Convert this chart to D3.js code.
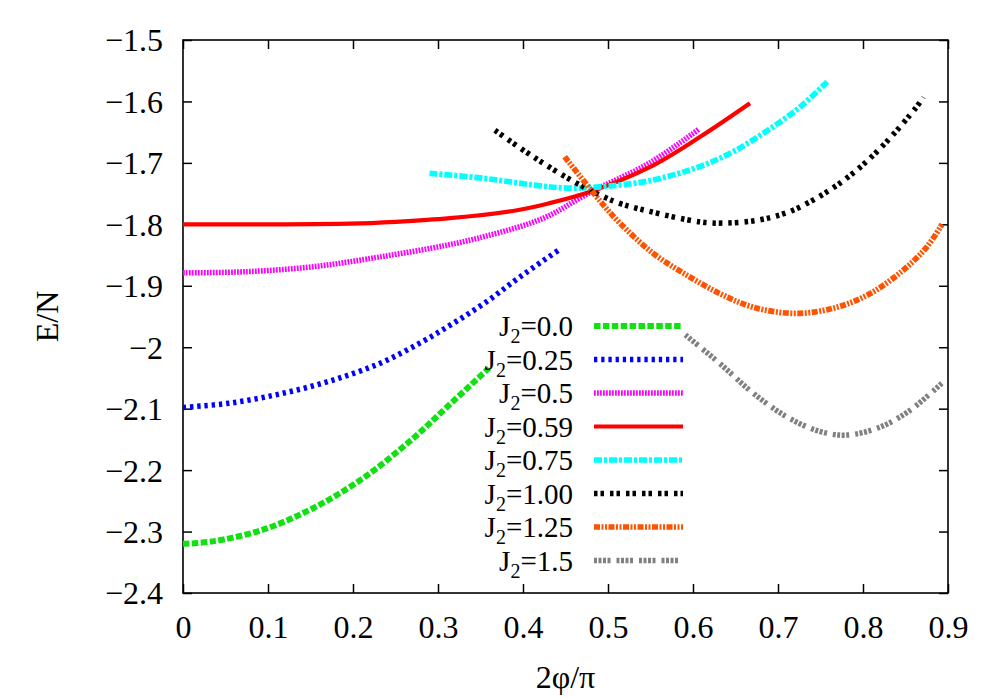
<!DOCTYPE html>
<html>
<head>
<meta charset="utf-8">
<title>E/N vs 2phi/pi</title>
<script src="https://cdn.jsdelivr.net/npm/d3@7"></script>
<style>
  body { margin: 0; background: #fff; }
  svg text { font-family: "Liberation Serif", "Times New Roman", Tinos, Times, "DejaVu Serif", serif; fill: #000; }
</style>
</head>
<body>
<script>
// values

var xTicks = [0, 0.1, 0.2, 0.3, 0.4, 0.5, 0.6, 0.7, 0.8, 0.9];
var xTickLabels = ["0", "0.1", "0.2", "0.3", "0.4", "0.5", "0.6", "0.7", "0.8", "0.9"];
var yTicks = [-1.5, -1.6, -1.7, -1.8, -1.9, -2.0, -2.1, -2.2, -2.3, -2.4];
var yTickLabels = ["\u22121.5", "\u22121.6", "\u22121.7", "\u22121.8", "\u22121.9", "\u22122", "\u22122.1", "\u22122.2", "\u22122.3", "\u22122.4"];

var seriesNames = ["0.0", "0.25", "0.5", "0.59", "0.75", "1.00", "1.25", "1.5"];

// J2 = 0.0
var phiJ000 = [0, 0.035, 0.094, 0.153, 0.212, 0.271, 0.31, 0.36];
var eJ000 = [-2.320, -2.316, -2.297, -2.262, -2.213, -2.148, -2.098, -2.034];

// J2 = 0.25
var phiJ025 = [0, 0.055, 0.114, 0.173, 0.232, 0.279, 0.318, 0.357, 0.396, 0.445];
var eJ025 = [-2.098, -2.091, -2.076, -2.055, -2.026, -1.993, -1.961, -1.926, -1.886, -1.839];

// J2 = 0.5
var phiJ050 = [0, 0.075, 0.153, 0.232, 0.31, 0.357, 0.424, 0.479, 0.549, 0.607];
var eJ050 = [-1.879, -1.877, -1.869, -1.853, -1.834, -1.819, -1.790, -1.748, -1.700, -1.645];

// J2 = 0.59
var phiJ059 = [0, 0.1, 0.196, 0.25, 0.314, 0.393, 0.43, 0.479, 0.549, 0.608, 0.667];
var eJ059 = [-1.800, -1.800, -1.799, -1.796, -1.790, -1.777, -1.766, -1.747, -1.707, -1.658, -1.603];

// J2 = 0.75
var phiJ075 = [0.29, 0.353, 0.412, 0.452, 0.49, 0.549, 0.608, 0.647, 0.687, 0.726, 0.758];
var eJ075 = [-1.717, -1.725, -1.736, -1.741, -1.739, -1.729, -1.706, -1.682, -1.648, -1.609, -1.568];

// J2 = 1.00
var phiJ100 = [0.367, 0.412, 0.463, 0.51, 0.546, 0.608, 0.636, 0.677, 0.714, 0.753, 0.788, 0.824, 0.863, 0.871];
var eJ100 = [-1.647, -1.690, -1.733, -1.764, -1.778, -1.796, -1.798, -1.793, -1.779, -1.751, -1.717, -1.671, -1.609, -1.593];

// J2 = 1.25
var phiJ125 = [0.449, 0.49, 0.514, 0.553, 0.593, 0.632, 0.671, 0.722, 0.769, 0.808, 0.847, 0.875, 0.893];
var eJ125 = [-1.690, -1.761, -1.798, -1.847, -1.883, -1.913, -1.935, -1.945, -1.935, -1.913, -1.875, -1.837, -1.800];

// J2 = 1.5
var phiJ150 = [0.591, 0.632, 0.671, 0.71, 0.749, 0.781, 0.82, 0.855, 0.894];
var eJ150 = [-1.980, -2.027, -2.075, -2.113, -2.137, -2.143, -2.130, -2.103, -2.057];

var phiList = [phiJ000, phiJ025, phiJ050, phiJ059, phiJ075, phiJ100, phiJ125, phiJ150];
var eList = [eJ000, eJ025, eJ050, eJ059, eJ075, eJ100, eJ125, eJ150];

// line styles (gnuplot-ish)
var colors = ["#11e011", "#0000ff", "#ff00ff", "#ff0000", "#00ffff", "#000000", "#ff5300", "#808080"];
var widths = [6, 5.5, 5.5, 4.2, 5.7, 5.5, 5.7, 5.5];
var dashes = ["6.5,2.4", "3.3,3.9", "1.8,1.2", null, "8,2,3,2", "3.5,3,3.5,6", "6,1.5,2,1.5,2,1.5", "3,1.5,3,1.5,3,1.5,3,6"];

var serif = "'Liberation Serif', 'Times New Roman', Tinos, Times, 'DejaVu Serif', serif";

window.onload = function(){

	var w = 1000, h = 700;
	var left = 183, right = 948, top = 40, bottom = 593;

	var svg = d3.select("body")
		.append("svg")
		.attr("width", w)
		.attr("height", h)
		.attr("font-family", serif);

	var x = d3.scaleLinear()
		.domain([0, 0.9])
		.range([left, right]);

	var y = d3.scaleLinear()
		.domain([-1.5, -2.4])
		.range([top, bottom]);

	// axes: ticks point inwards, mirrored on top and right
	var tickLen = 9;

	svg.append("g")
		.attr("transform", "translate(0," + bottom + ")")
		.call(d3.axisBottom(x).tickValues(xTicks).tickSize(-tickLen)
			.tickFormat(function(d, i){ return xTickLabels[i]; }))
		.call(styleAxis)
		.selectAll("text")
		.attr("dy", "0")
		.attr("y", 45);

	svg.append("g")
		.attr("transform", "translate(0," + top + ")")
		.call(d3.axisTop(x).tickValues(xTicks).tickSize(-tickLen).tickFormat(""))
		.call(styleAxis);

	svg.append("g")
		.attr("transform", "translate(" + left + ",0)")
		.call(d3.axisLeft(y).tickValues(yTicks).tickSize(-tickLen)
			.tickFormat(function(d, i){ return yTickLabels[i]; }))
		.call(styleAxis)
		.selectAll("text")
		.attr("x", -20)
		.attr("dy", "0.34em");

	svg.append("g")
		.attr("transform", "translate(" + right + ",0)")
		.call(d3.axisRight(y).tickValues(yTicks).tickSize(-tickLen).tickFormat(""))
		.call(styleAxis);

	function styleAxis(g){
		g.attr("font-family", serif);
		g.select(".domain").remove();
		g.selectAll("line").attr("stroke", "#000").attr("stroke-width", 1.5);
		g.selectAll("text").style("font-size", "32px").attr("fill", "#000")
			.style("font-family", serif);
	}

	// frame
	svg.append("rect")
		.attr("x", left)
		.attr("y", top)
		.attr("width", right - left)
		.attr("height", bottom - top)
		.attr("fill", "none")
		.attr("stroke", "#000")
		.attr("stroke-width", 1.6);

	// curves
	var line = d3.line()
		.x(function(d){ return x(d[0]); })
		.y(function(d){ return y(d[1]); })
		.curve(d3.curveCatmullRom.alpha(0.5));

	var legendRight = 573, legendX1 = 594, legendX2 = 683, legendY0 = 326, legendStep = 33.5;

	seriesNames.forEach(function(name, i){
		var pts = d3.zip(phiList[i], eList[i]);

		var path = svg.append("path")
			.datum(pts)
			.attr("d", line)
			.attr("fill", "none")
			.attr("stroke", colors[i])
			.attr("stroke-width", widths[i]);
		if (dashes[i]) path.attr("stroke-dasharray", dashes[i]);

		// legend entry
		var ly = legendY0 + i * legendStep;
		var sample = svg.append("line")
			.attr("x1", legendX1)
			.attr("x2", legendX2)
			.attr("y1", ly)
			.attr("y2", ly)
			.attr("stroke", colors[i])
			.attr("stroke-width", widths[i]);
		if (dashes[i]) sample.attr("stroke-dasharray", dashes[i]);

		var label = svg.append("text")
			.attr("x", legendRight)
			.attr("y", ly + 10)
			.attr("text-anchor", "end")
			.style("font-family", serif)
			.style("font-size", "29px");
		label.append("tspan").text("J");
		label.append("tspan").attr("dy", 7).style("font-size", "20px").text("2");
		label.append("tspan").attr("dy", -7).text("=" + name);
	});

	// axis titles
	svg.append("text")
		.attr("x", (left + right) / 2)
		.attr("y", 688)
		.attr("text-anchor", "middle")
		.style("font-family", serif)
		.style("font-size", "32px")
		.text("2\u03c6/\u03c0");

	svg.append("text")
		.attr("transform", "translate(58," + ((top + bottom) / 2) + ") rotate(-90)")
		.attr("text-anchor", "middle")
		.style("font-family", serif)
		.style("font-size", "32px")
		.text("E/N");
};
</script>
</body>
</html>
